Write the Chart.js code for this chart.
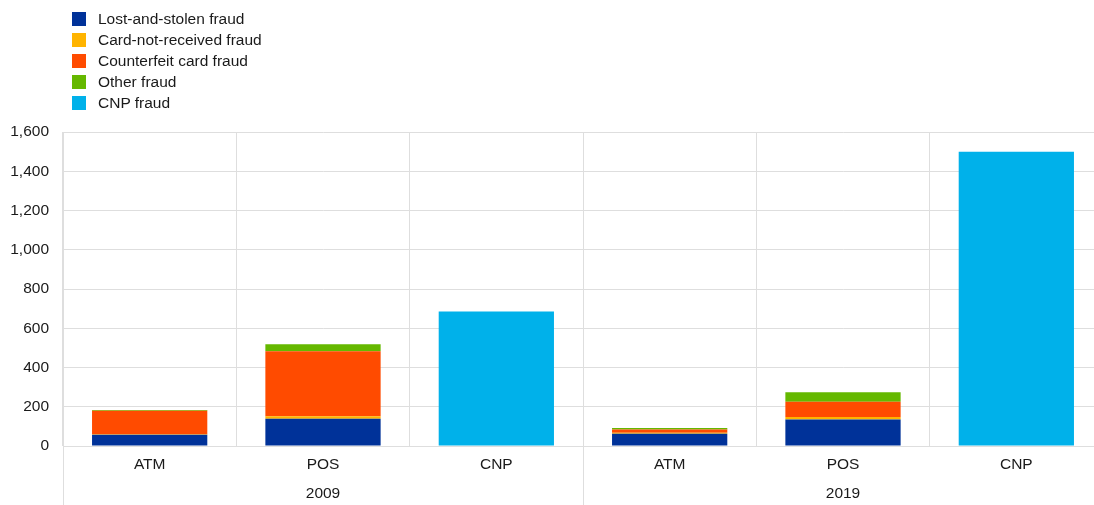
<!DOCTYPE html>
<html lang="en">
<head>
  <meta charset="UTF-8" />
  <title>Card fraud by channel</title>
  <style>
    html, body { margin: 0; padding: 0; background: #fff; }
    body { width: 1094px; height: 505px; overflow: hidden; position: relative; font-family: Arial, "Liberation Sans", Helvetica, sans-serif; }
    .wrap { position: absolute; left: 0; top: 0; width: 1094px; height: 505px; overflow: hidden; }
    #legend { position: absolute; left: 72px; top: 8px; margin: 0; padding: 0; list-style: none; z-index: 2; }
    #legend li { height: 21px; display: flex; align-items: center; font-size: 15.5px; color: #1a1a1a; white-space: nowrap; }
    #legend span.box { width: 14px; height: 14px; display: inline-block; margin-right: 12px; }
  </style>
</head>
<body>
  <div class="wrap">
    <ul id="legend"></ul>
    <canvas id="chart" width="1104" height="505"></canvas>
  </div>

  <script src="https://cdn.jsdelivr.net/npm/chart.js"></script>
  <script>
    // categories
    const channels = ["ATM", "POS", "CNP", "ATM", "POS", "CNP"];
    const years = ["2009", "2019"];

    // EUR millions
    const lostStolen     = [57, 139, 0, 63, 135, 0];
    const notReceived    = [3, 12, 0, 4, 13, 0];
    const counterfeit    = [120, 332, 0, 17, 78, 0];
    const otherFraud     = [3, 35, 0, 8, 48, 0];
    const cnpFraud       = [0, 0, 685, 0, 0, 1500];

    const yTicks = [0, 200, 400, 600, 800, 1000, 1200, 1400, 1600];

    const font = { family: "Arial, 'Liberation Sans', Helvetica, sans-serif", size: 15.5 };
    const gridColor = "#dedede";
    const textColor = "#1a1a1a";

    const series = [
      { label: "Lost-and-stolen fraud", data: lostStolen, color: "#003299" },
      { label: "Card-not-received fraud", data: notReceived, color: "#ffb400" },
      { label: "Counterfeit card fraud", data: counterfeit, color: "#ff4b00" },
      { label: "Other fraud", data: otherFraud, color: "#65b800" },
      { label: "CNP fraud", data: cnpFraud, color: "#00b1ea" }
    ];

    // legend as a vertical list
    const legendEl = document.getElementById("legend");
    series.forEach(s => {
      const li = document.createElement("li");
      li.innerHTML = `<span class="box" style="background:${s.color}"></span>${s.label}`;
      legendEl.appendChild(li);
    });

    // lines separating the two year groups, running down through the label rows
    const groupLines = {
      id: "groupLines",
      afterDraw(chart) {
        const x = chart.scales.x;
        const half = x.width / channels.length / 2;
        const ctx = chart.ctx;
        ctx.save();
        ctx.strokeStyle = gridColor;
        ctx.lineWidth = 1;
        [0, 3].forEach(i => {
          const px = Math.round(x.getPixelForTick(i) - half) + 0.5;
          ctx.beginPath();
          ctx.moveTo(px, chart.chartArea.bottom);
          ctx.lineTo(px, chart.height);
          ctx.stroke();
        });
        ctx.restore();
      }
    };

    new Chart(document.getElementById("chart"), {
      type: "bar",
      data: {
        labels: channels,
        datasets: series.map(s => ({
          label: s.label,
          data: s.data,
          backgroundColor: s.color,
          borderWidth: 0,
          categoryPercentage: 1,
          barPercentage: 0.665
        }))
      },
      plugins: [groupLines],
      options: {
        responsive: false,
        animation: false,
        layout: { padding: { top: 132, left: 2, right: 1, bottom: 1 } },
        plugins: {
          legend: { display: false },
          tooltip: { enabled: false }
        },
        scales: {
          x: {
            stacked: true,
            afterFit: axis => { axis.height = 28; },
            grid: { color: gridColor, offset: true, drawTicks: false },
            border: { color: gridColor },
            ticks: { font, color: textColor, padding: 9, maxRotation: 0, autoSkip: false }
          },
          x2: {
            type: "category",
            position: "bottom",
            labels: years,
            offset: true,
            afterFit: axis => { axis.height = 30; },
            grid: { display: false, drawTicks: false },
            border: { display: false },
            ticks: { font, color: textColor, padding: 10 }
          },
          y: {
            stacked: true,
            min: 0,
            max: 1600,
            afterFit: axis => { axis.width = 61; },
            afterBuildTicks: axis => { axis.ticks = yTicks.map(v => ({ value: v })); },
            grid: { color: gridColor, drawTicks: false },
            border: { color: gridColor },
            ticks: { font, color: textColor, padding: 14 }
          }
        }
      }
    });
  </script>
</body>
</html>
